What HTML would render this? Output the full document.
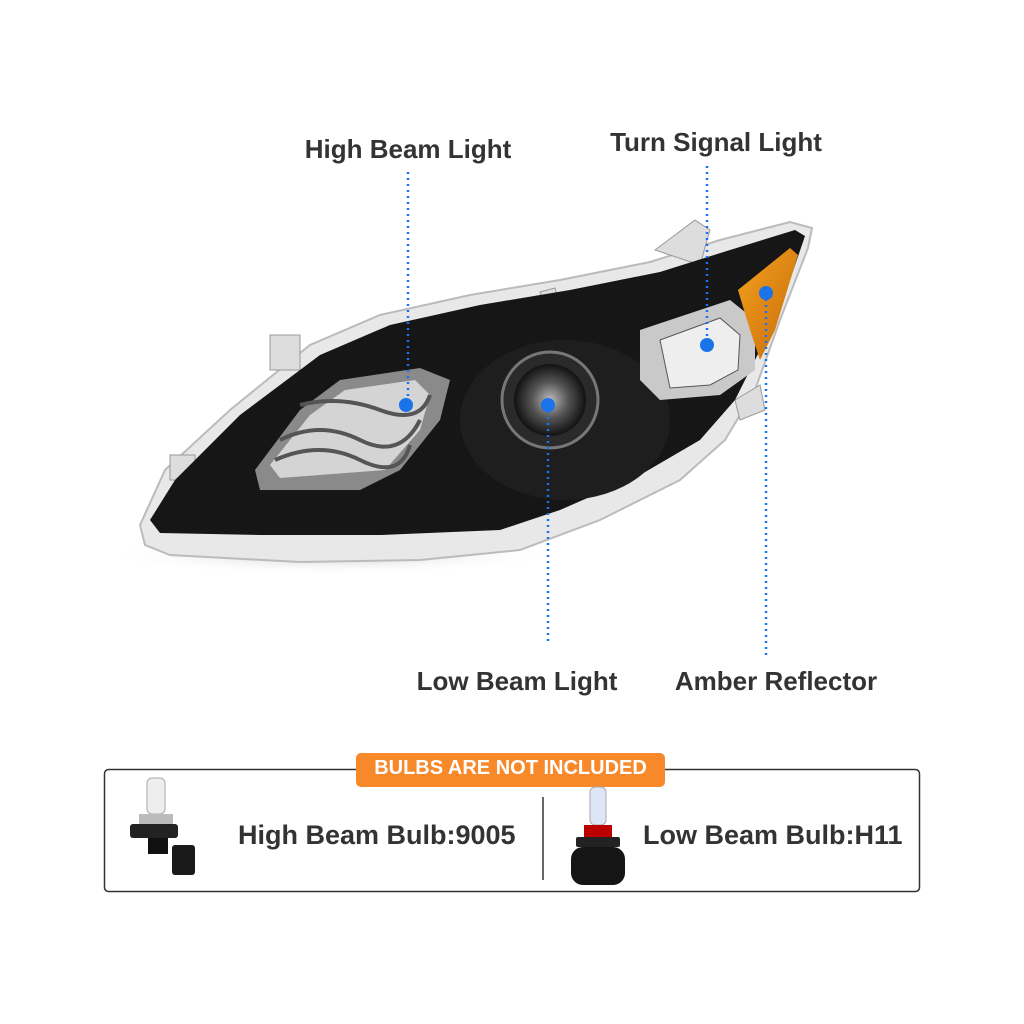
<!DOCTYPE html>
<html><head><meta charset="utf-8"><style>
html,body{margin:0;padding:0;background:#fff;}
body{width:1024px;height:1024px;position:relative;overflow:hidden;font-family:"Liberation Sans",sans-serif;}
.lbl{position:absolute;font-weight:bold;font-size:26px;color:#333;white-space:nowrap;transform:translateX(-50%);}
</style></head><body>
<svg width="1024" height="1024" style="position:absolute;left:0;top:0">
  <defs>
    <linearGradient id="amb" x1="0" y1="0" x2="1" y2="1">
      <stop offset="0" stop-color="#f6a21f"/><stop offset="1" stop-color="#c46a0a"/>
    </linearGradient>
    <radialGradient id="lens" cx="0.5" cy="0.5" r="0.5">
      <stop offset="0" stop-color="#bbb"/><stop offset="0.5" stop-color="#555"/><stop offset="1" stop-color="#111"/>
    </radialGradient>
    <radialGradient id="shad" cx="0.5" cy="0.5" r="0.5">
      <stop offset="0" stop-color="#ccc"/><stop offset="1" stop-color="#fff" stop-opacity="0"/>
    </radialGradient>
  </defs>
  <ellipse cx="330" cy="555" rx="230" ry="20" fill="url(#shad)"/>
  <polygon points="140,525 165,470 230,410 310,345 380,315 470,295 560,280 650,262 720,240 790,222 812,228 808,248 780,320 755,390 725,440 680,480 600,520 520,550 420,560 300,562 170,555 145,545" fill="#e8e8e8" stroke="#bbb" stroke-width="2"/>
  <polygon points="270,335 300,335 300,370 270,370" fill="#ddd" stroke="#999"/>
  <polygon points="170,455 195,455 195,480 170,480" fill="#ddd" stroke="#999"/>
  <polygon points="655,250 695,220 710,230 700,265" fill="#ddd" stroke="#999"/>
  <polygon points="540,292 555,288 560,305 545,310" fill="#ddd" stroke="#999"/>
  <polygon points="735,400 760,385 765,410 740,420" fill="#ddd" stroke="#999"/>
  <polygon points="150,520 175,480 240,415 320,355 390,325 480,305 570,290 660,272 730,250 795,230 805,236 790,280 765,340 735,400 700,440 640,475 560,510 500,530 380,535 260,535 160,533" fill="#161616"/>
  <polygon points="255,470 300,410 340,380 420,368 450,380 440,420 400,470 360,490 260,490" fill="#8a8a8a"/>
  <polygon points="270,465 310,415 345,390 415,380 430,395 420,430 385,470 280,478" fill="#d4d4d4"/>
  <path d="M280,440 Q320,420 360,440 T420,420 M275,460 Q320,440 360,460 T410,445 M300,405 Q340,395 380,410 T430,395" stroke="#555" stroke-width="4" fill="none"/>
  <ellipse cx="565" cy="420" rx="105" ry="80" fill="#1e1e1e"/>
  <circle cx="550" cy="400" r="48" fill="#2a2a2a" stroke="#777" stroke-width="3"/>
  <circle cx="550" cy="400" r="36" fill="url(#lens)"/>
  <polygon points="640,330 730,300 755,320 755,370 720,395 660,400 640,380" fill="#c9c9c9"/>
  <polygon points="660,340 720,318 740,335 738,370 710,385 670,388" fill="#eee" stroke="#555"/>
  <polygon points="738,290 790,248 798,255 775,330 760,360 750,330" fill="url(#amb)"/>
  <g stroke="#1a73e8" stroke-width="2.5" stroke-dasharray="2,4" fill="none">
    <line x1="408" y1="172" x2="408" y2="405"/>
    <line x1="707" y1="166" x2="707" y2="345"/>
    <line x1="548" y1="405" x2="548" y2="645"/>
    <line x1="766" y1="293" x2="766" y2="655"/>
  </g>
  <g fill="#1a73e8">
    <circle cx="406" cy="405" r="7"/><circle cx="548" cy="405" r="7"/>
    <circle cx="707" cy="345" r="7"/><circle cx="766" cy="293" r="7"/>
  </g>
  <rect x="104.5" y="769.5" width="815" height="122" rx="4" fill="none" stroke="#333" stroke-width="1.5"/>
  <line x1="543" y1="797" x2="543" y2="880" stroke="#333" stroke-width="1.5"/>
  <rect x="356" y="753" width="309" height="34" rx="5" fill="#f7892a"/>
  <rect x="147" y="778" width="18" height="36" rx="5" fill="#eee" stroke="#aaa"/>
  <rect x="139" y="814" width="34" height="10" fill="#bbb"/>
  <rect x="130" y="824" width="48" height="14" rx="3" fill="#222"/>
  <rect x="148" y="838" width="20" height="16" fill="#111"/>
  <rect x="172" y="845" width="23" height="30" rx="3" fill="#1a1a1a"/>
  <rect x="590" y="787" width="16" height="38" rx="5" fill="#dde6f5" stroke="#aaa"/>
  <rect x="584" y="825" width="28" height="12" fill="#b00"/>
  <rect x="576" y="837" width="44" height="10" rx="2" fill="#222"/>
  <rect x="571" y="847" width="54" height="38" rx="12" fill="#151515"/>
</svg>
<div class="lbl" style="left:408px;top:134px">High Beam Light</div>
<div class="lbl" style="left:716px;top:127px">Turn Signal Light</div>
<div class="lbl" style="left:517px;top:666px">Low Beam Light</div>
<div class="lbl" style="left:776px;top:666px">Amber Reflector</div>
<div style="position:absolute;left:356px;top:757px;width:309px;text-align:center;color:#fff;font-weight:bold;font-size:20px;">BULBS ARE NOT INCLUDED</div>
<div style="position:absolute;left:238px;top:820px;font-weight:bold;font-size:27px;color:#333;">High Beam Bulb:9005</div>
<div style="position:absolute;left:643px;top:820px;font-weight:bold;font-size:27px;color:#333;">Low Beam Bulb:H11</div>
</body></html>
